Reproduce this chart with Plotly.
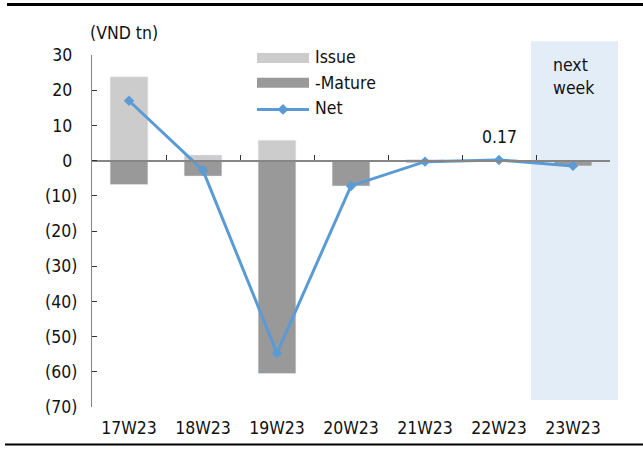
import plotly.graph_objects as go

# Weekly bond issuance vs. maturities (VND tn)
weeks = ["17W23", "18W23", "19W23", "20W23", "21W23", "22W23", "23W23"]
issue = [23.8, 1.6, 5.8, 0.0, 0.3, 0.4, 0.0]
mature = [-6.8, -4.4, -60.5, -7.2, -0.6, -0.23, -1.5]
net = [17.0, -2.8, -54.7, -7.2, -0.3, 0.17, -1.5]

y_tickvals = [30, 20, 10, 0, -10, -20, -30, -40, -50, -60, -70]
y_ticktext = ["30\u00a0", "20\u00a0", "10\u00a0", "0\u00a0", "(10)", "(20)", "(30)",
              "(40)", "(50)", "(60)", "(70)"]

W, H = 643, 450
ML, MR, MT, MB = 92, 33, 55, 39
FONT = "DejaVu Sans Condensed, DejaVu Sans, sans-serif"
C_ISSUE = "#CCCCCC"
C_MATURE = "#999999"
C_NET = "#5B9BD5"
C_AXIS = "#868686"


def px(x):
    return (x - ML) / (W - ML - MR)


def py(y):
    return (H - MB - y) / (H - MT - MB)


fig = go.Figure()
fig.add_trace(go.Bar(x=weeks, y=issue, name="Issue", marker_color=C_ISSUE,
                     width=0.51, showlegend=False))
fig.add_trace(go.Bar(x=weeks, y=mature, name="-Mature", marker_color=C_MATURE,
                     width=0.51, showlegend=False))
fig.add_trace(go.Scatter(x=weeks, y=net, name="Net", mode="lines+markers",
                         line=dict(color=C_NET, width=3),
                         marker=dict(symbol="diamond", size=8, color=C_NET),
                         showlegend=False))
# helper trace so the zero-line tick axis is drawn
fig.add_trace(go.Scatter(x=weeks, y=[None] * len(weeks), xaxis="x2",
                         showlegend=False, hoverinfo="skip"))

shapes = []
# shaded "next week" band
shapes.append(dict(type="rect", xref="paper", yref="paper",
                   x0=px(531), x1=px(618), y0=py(404), y1=py(41),
                   fillcolor="#E3EDF7", line_width=0, layer="below"))
# top and bottom rules
shapes.append(dict(type="line", xref="paper", yref="paper",
                   x0=px(7), x1=px(643), y0=py(4), y1=py(4),
                   line=dict(color="black", width=3)))
shapes.append(dict(type="line", xref="paper", yref="paper",
                   x0=px(5), x1=px(643), y0=py(449), y1=py(449),
                   line=dict(color="black", width=2)))
# legend swatches
shapes.append(dict(type="rect", xref="paper", yref="paper",
                   x0=px(257), x1=px(309), y0=py(63), y1=py(53),
                   fillcolor=C_ISSUE, line_width=0))
shapes.append(dict(type="rect", xref="paper", yref="paper",
                   x0=px(257), x1=px(309), y0=py(88), y1=py(78),
                   fillcolor=C_MATURE, line_width=0))
shapes.append(dict(type="line", xref="paper", yref="paper",
                   x0=px(257), x1=px(309), y0=py(110), y1=py(110),
                   line=dict(color=C_NET, width=3)))
cx, cy, r = 283, 110, 5.5
shapes.append(dict(type="path", xref="paper", yref="paper",
                   path=(f"M{px(cx)},{py(cy - r)} L{px(cx + r)},{py(cy)} "
                         f"L{px(cx)},{py(cy + r)} L{px(cx - r)},{py(cy)} Z"),
                   fillcolor=C_NET, line_width=0))

annotations = [
    dict(text="(VND tn)", xref="paper", yref="paper", x=px(88), y=py(33),
         xanchor="left", yanchor="middle", showarrow=False),
    dict(text="Issue", xref="paper", yref="paper", x=px(313), y=py(57),
         xanchor="left", yanchor="middle", showarrow=False),
    dict(text="-Mature", xref="paper", yref="paper", x=px(313), y=py(83),
         xanchor="left", yanchor="middle", showarrow=False),
    dict(text="Net", xref="paper", yref="paper", x=px(313), y=py(109),
         xanchor="left", yanchor="middle", showarrow=False),
    dict(text="next<br>week", xref="paper", yref="paper", x=px(551), y=py(77),
         xanchor="left", yanchor="middle", align="left", showarrow=False),
    dict(text=f"{net[5]:.2f}", x=weeks[5], y=net[5], yshift=23,
         xanchor="center", yanchor="middle", showarrow=False),
]

fig.update_layout(
    width=W, height=H,
    margin=dict(l=ML, r=MR, t=MT, b=MB, pad=0),
    paper_bgcolor="white", plot_bgcolor="rgba(0,0,0,0)",
    font=dict(family=FONT, size=17.5, color="#111111"),
    barmode="relative",
    showlegend=False,
    shapes=shapes,
    annotations=annotations,
    xaxis=dict(type="category", categoryorder="array", categoryarray=weeks,
               range=[-0.5, 6.5], showline=False, showgrid=False,
               zeroline=False, ticks="", ticklabelstandoff=8),
    xaxis2=dict(type="category", categoryorder="array", categoryarray=weeks,
                overlaying="x", matches="x", anchor="free",
                position=py(161.7), side="bottom", showticklabels=False,
                showline=True, linecolor=C_AXIS, linewidth=1.5,
                ticks="inside", tickson="boundaries", ticklen=5,
                tickcolor="#333333", tickwidth=1.2, showgrid=False),
    yaxis=dict(range=[-70, 30], tickvals=y_tickvals, ticktext=y_ticktext,
               showline=True, linecolor=C_AXIS, linewidth=1.3,
               ticks="inside", ticklen=5, tickcolor="#333333", tickwidth=1.2,
               showgrid=False, zeroline=False, ticklabelstandoff=10),
)

fig.write_html("out.html")
